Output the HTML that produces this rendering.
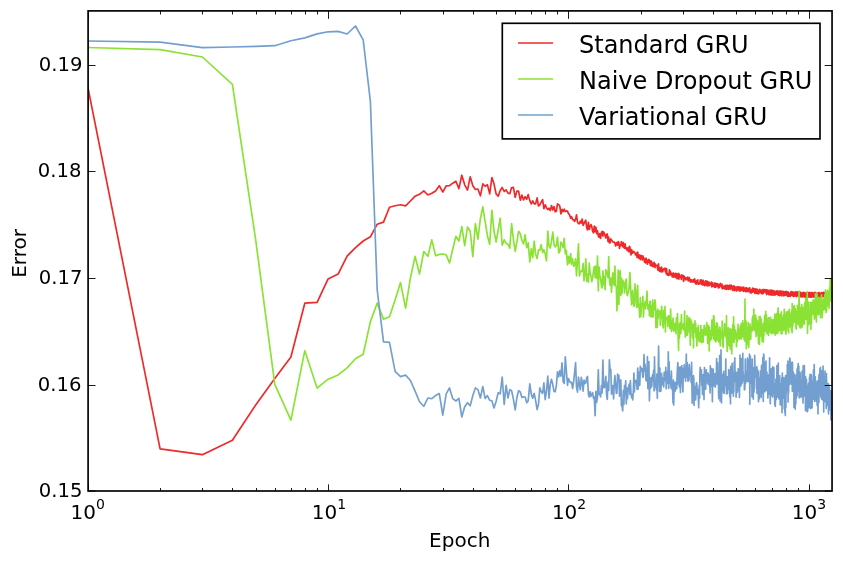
<!DOCTYPE html>
<html lang="en"><head><meta charset="utf-8"><title>GRU error vs epoch</title>
<style>html,body{margin:0;padding:0;background:#fff}svg{display:block}</style></head>
<body>
<svg width="843" height="562" viewBox="0 0 843 562" font-family="'DejaVu Sans','Liberation Sans',sans-serif" fill="#000">
<clipPath id="ax"><rect x="88.1" y="10.9" width="743.9" height="480.1"/></clipPath>
<g clip-path="url(#ax)">
<polyline points="87.7,86.5 160.1,448.8 202.4,454.7 232.4,440.2 255.7,405.0 274.8,378.5 290.9,357.0 304.8,303.2 317.1,302.3 328.1,278.9 338.1,274.1 347.1,256.2 355.5,247.6 363.2,241.0 370.4,236.8 377.2,224.2 383.5,222.1 389.5,207.2 395.1,205.7 400.5,204.8 405.6,205.9 410.4,201.0 415.1,196.2 419.5,194.3 423.8,190.9 427.9,195.0 431.8,193.3 435.6,191.0 439.3,185.7 442.8,192.0 446.2,185.9 449.5,185.7 452.8,183.2 455.9,181.3 458.9,188.6 461.8,175.2 464.7,184.8 467.5,190.1 470.2,176.8 472.8,185.7 475.4,189.5 477.9,189.0 480.4,195.8 482.8,183.8 485.1,186.3 487.4,184.8 489.7,193.9 491.9,177.5 494.0,183.8 496.1,193.9 498.2,196.2 500.2,190.5 502.2,187.5 504.2,191.5 506.1,189.9 508.0,193.1 509.8,193.7 511.6,187.6 513.4,187.4 515.2,197.3 516.9,191.1 518.6,191.2 520.3,200.2 521.9,195.1 523.5,199.9 525.1,196.7 526.7,199.2 528.2,194.6 529.8,200.6 531.3,203.9 532.7,200.8 534.2,203.8 535.6,203.8 537.1,197.9 538.5,206.0 539.8,204.9 541.2,202.2 542.6,199.6 543.9,208.7 545.2,204.9 546.5,207.7 547.8,209.6 549.0,208.2 550.3,210.6 551.5,205.5 552.8,209.9 554.0,206.5 555.2,211.7 556.3,211.4 557.5,203.9 558.7,204.7 559.8,206.1 560.9,214.0 562.0,209.3 563.1,211.7 564.2,209.0 565.3,211.6 566.4,210.9 567.5,211.1 568.5,213.8 569.5,214.5 570.6,218.2 571.6,216.7 572.6,219.7 573.6,219.6 574.6,221.5 575.6,219.1 576.5,214.9 577.5,222.1 578.5,223.6 579.4,223.7 580.3,221.1 581.3,223.1 582.2,219.0 583.1,225.3 584.0,223.6 584.9,221.6 585.8,220.2 586.7,228.0 587.5,229.8 588.4,222.3 589.3,229.3 590.1,226.4 591.0,224.6 591.8,226.5 592.6,231.3 593.5,232.8 594.3,226.1 595.1,231.7 595.9,227.2 596.7,233.7 597.5,230.8 598.3,236.1 599.1,237.4 599.8,233.7 600.6,238.4 601.4,232.8 602.1,231.3 602.9,236.2 603.6,231.8 604.4,233.6 605.1,235.8 605.8,238.0 606.6,234.5 607.3,234.0 608.0,241.4 608.7,237.1 609.4,243.0 610.1,242.8 610.8,238.9 611.5,239.9 612.2,240.8 612.9,242.2 613.6,242.1 614.3,242.2 614.9,243.0 615.6,246.0 616.3,242.8 616.9,242.5 617.6,245.2 618.2,241.6 618.9,242.5 619.5,248.3 620.1,244.9 620.8,245.5 621.4,241.5 622.0,245.1 622.7,246.7 623.3,242.6 623.9,247.6 624.5,248.1 625.1,243.9 625.7,248.7 626.3,247.9 626.9,249.9 627.5,247.8 628.1,250.9 628.7,251.6 629.3,246.4 629.9,247.1 630.4,252.2 631.0,254.9 631.6,249.7 632.2,251.7 632.7,253.1 633.3,251.4 633.9,252.1 634.4,252.1 635.0,252.9 635.5,255.0 636.1,253.1 636.6,254.1 637.1,257.4 637.7,252.1 638.2,256.6 638.8,258.2 639.3,255.4 639.8,255.0 640.3,259.7 640.9,255.7 641.4,255.7 641.9,257.8 642.4,260.0 642.9,255.9 643.4,257.8 644.0,258.2 644.5,262.2 645.0,259.5 645.5,262.9 646.0,258.1 646.5,259.6 647.0,262.2 647.4,264.2 647.9,261.3 648.4,259.9 648.9,259.4 649.4,262.7 649.9,260.5 650.3,265.2 650.8,265.7 651.3,261.2 651.8,262.2 652.2,266.2 652.7,265.3 653.2,266.7 653.6,263.7 654.1,262.4 654.5,263.8 655.0,267.6 655.5,264.2 655.9,264.9 656.4,265.7 656.8,265.9 657.3,266.1 657.7,269.9 658.1,264.8 658.6,264.0 659.0,270.8 659.5,270.5 659.9,271.5 660.3,267.9 660.8,271.7 661.2,271.8 661.6,267.2 662.1,271.0 662.5,271.8 662.9,270.9 663.3,270.1 663.7,268.8 664.2,269.4 664.6,268.8 665.0,268.0 665.4,271.7 665.8,269.9 666.2,273.6 666.6,268.7 667.0,274.7 667.5,273.5 667.9,275.2 668.3,275.2 668.7,275.4 669.1,273.4 669.5,269.9 669.9,274.8 670.2,271.2 670.6,272.2 671.0,274.8 671.4,274.0 671.8,273.4 672.2,277.0 672.6,275.0 673.0,273.4 673.4,273.0 673.7,277.1 674.1,274.8 674.5,276.9 674.9,274.3 675.2,273.4 675.6,275.7 676.0,277.6 676.4,273.7 676.7,277.8 677.1,278.7 677.5,278.1 677.8,278.4 678.2,273.4 678.6,277.5 678.9,279.1 679.3,274.1 679.7,275.7 680.0,275.8 680.4,277.5 680.7,277.0 681.1,277.5 681.4,279.5 681.8,274.9 682.2,275.3 682.5,275.9 682.9,275.9 683.2,275.7 683.5,281.3 683.9,280.6 684.2,276.1 684.6,278.7 684.9,277.7 685.3,277.7 685.6,278.0 685.9,279.9 686.3,279.6 686.6,278.4 687.0,277.5 687.3,278.4 687.6,277.2 688.0,279.9 688.3,280.9 688.6,279.0 689.0,277.3 689.3,278.0 689.6,279.2 689.9,280.7 690.3,281.8 690.6,279.5 690.9,282.1 691.2,281.1 691.6,280.1 691.9,279.8 692.2,280.6 692.5,281.9 692.8,280.4 693.2,282.0 693.5,280.8 693.8,279.6 694.1,281.4 694.4,282.3 694.7,278.9 695.0,281.0 695.3,281.1 695.7,283.7 696.0,284.1 696.3,281.0 696.6,284.0 696.9,283.5 697.2,280.6 697.5,281.8 697.8,279.9 698.1,283.8 698.4,283.0 698.7,284.3 699.0,283.8 699.3,283.2 699.6,283.6 699.9,282.7 700.2,280.2 700.5,283.0 700.8,279.8 701.1,280.6 701.4,284.1 701.7,280.2 701.9,280.5 702.2,280.6 702.5,284.9 702.8,281.1 703.1,280.3 703.4,284.9 703.7,281.0 704.0,285.0 704.2,284.1 704.5,285.0 704.8,285.7 705.1,283.7 705.4,285.0 705.7,280.8 705.9,284.9 706.2,283.5 706.5,284.7 706.8,281.4 707.1,285.0 707.3,286.0 707.6,281.3 707.9,282.8 708.2,284.2 708.4,285.7 708.7,282.5 709.0,282.2 709.2,282.6 709.5,284.7 709.8,285.5 710.1,283.6 710.3,283.5 710.6,283.7 710.9,283.5 711.1,283.9 711.4,282.1 711.7,284.4 711.9,287.0 712.2,284.0 712.4,285.9 712.7,282.8 713.0,285.7 713.2,286.1 713.5,285.7 713.8,284.9 714.0,284.7 714.3,285.6 714.5,287.1 714.8,283.0 715.0,282.8 715.3,286.4 715.6,287.3 715.8,285.2 716.1,284.9 716.3,286.4 716.6,283.5 716.8,284.0 717.1,283.7 717.3,285.8 717.6,284.4 717.8,284.0 718.1,286.5 718.3,288.0 718.6,284.5 718.8,286.7 719.1,285.2 719.3,287.6 719.6,286.2 719.8,284.5 720.1,284.3 720.3,283.3 720.5,285.8 720.8,285.3 721.0,284.2 721.3,285.3 721.5,285.1 721.8,287.6 722.0,284.2 722.2,288.8 722.5,286.1 722.7,286.8 722.9,286.1 723.2,288.2 723.4,288.1 723.7,286.7 723.9,286.4 724.1,287.7 724.4,288.5 724.6,286.1 724.8,287.9 725.1,289.1 725.3,286.5 725.5,285.3 725.8,285.4 726.0,288.0 726.2,287.8 726.5,289.4 726.7,288.8 726.9,285.6 727.1,285.4 727.4,285.8 727.6,285.4 727.8,288.2 728.1,289.1 728.3,289.3 728.5,285.9 728.7,289.2 729.0,286.3 729.2,286.9 729.4,288.6 729.6,285.2 729.8,285.3 730.1,289.3 730.3,286.4 730.5,286.8 730.7,288.0 731.0,288.6 731.2,285.1 731.4,286.8 731.6,287.4 731.8,287.7 732.1,286.3 732.3,288.3 732.5,290.3 732.7,287.4 732.9,288.2 733.1,286.0 733.4,286.9 733.6,289.0 733.8,286.1 734.0,290.2 734.2,290.4 734.4,286.1 734.6,290.6 734.8,287.6 735.1,289.8 735.3,289.7 735.5,287.3 735.7,289.4 735.9,289.3 736.1,290.1 736.3,287.3 736.5,289.9 736.7,291.0 736.9,289.5 737.2,288.8 737.4,286.6 737.6,288.7 737.8,287.9 738.0,289.9 738.2,289.7 738.4,289.2 738.6,287.1 738.8,289.6 739.0,289.6 739.2,287.2 739.4,291.0 739.6,289.8 739.8,287.0 740.0,291.3 740.2,287.2 740.4,288.2 740.6,290.3 740.8,289.6 741.0,289.4 741.2,290.0 741.4,289.0 741.6,288.2 741.8,287.6 742.0,287.0 742.2,290.5 742.4,290.7 742.6,289.6 742.8,290.7 743.0,288.7 743.2,288.2 743.4,288.9 743.6,291.5 743.8,287.1 744.0,289.6 744.2,288.3 744.4,291.0 744.6,288.9 744.8,288.8 745.0,289.2 745.1,289.9 745.3,291.2 745.5,289.0 745.7,291.6 745.9,287.8 746.1,288.6 746.3,287.8 746.5,287.9 746.7,291.4 746.9,291.1 747.1,288.3 747.2,288.4 747.4,289.6 747.6,291.3 747.8,291.7 748.0,291.4 748.2,290.6 748.4,288.3 748.6,289.6 748.7,288.6 748.9,290.4 749.1,290.6 749.3,288.7 749.5,289.0 749.7,291.8 749.8,287.9 750.0,292.0 750.2,292.4 750.4,292.8 750.6,289.8 750.8,290.7 750.9,290.9 751.1,291.2 751.3,293.0 751.5,291.5 751.7,289.5 751.8,292.5 752.0,290.6 752.2,291.2 752.4,291.9 752.6,288.1 752.7,292.1 752.9,291.6 753.1,290.7 753.3,290.9 753.5,290.6 753.6,289.3 753.8,291.0 754.0,288.5 754.2,290.9 754.3,291.7 754.5,290.7 754.7,291.3 754.9,293.4 755.0,293.1 755.2,289.2 755.4,292.6 755.6,291.8 755.7,288.8 755.9,290.4 756.1,289.8 756.3,289.0 756.4,291.4 756.6,293.5 756.8,290.4 757.0,293.2 757.1,292.3 757.3,289.4 757.5,293.2 757.6,291.9 757.8,293.6 758.0,292.6 758.1,292.7 758.3,290.7 758.5,293.1 758.7,293.8 758.8,293.4 759.0,291.2 759.2,292.9 759.3,291.5 759.5,289.6 759.7,289.3 759.8,289.5 760.0,290.1 760.2,289.9 760.3,291.7 760.5,292.7 760.7,291.9 760.8,291.3 761.0,292.5 761.2,290.8 761.3,291.6 761.5,293.1 761.7,291.3 761.8,290.2 762.0,293.9 762.1,293.0 762.3,291.2 762.5,291.2 762.6,292.0 762.8,292.4 763.0,290.5 763.1,289.4 763.3,290.4 763.4,293.4 763.6,290.1 763.8,291.8 763.9,290.4 764.1,290.5 764.2,290.3 764.4,291.5 764.6,290.3 764.7,289.6 764.9,290.1 765.0,290.4 765.2,292.1 765.4,289.9 765.5,289.7 765.7,291.9 765.8,291.7 766.0,293.2 766.1,289.9 766.3,291.7 766.5,291.7 766.6,289.8 766.8,294.6 766.9,290.8 767.1,290.2 767.2,292.1 767.4,290.6 767.6,292.9 767.7,291.5 767.9,290.4 768.0,290.0 768.2,293.5 768.3,291.2 768.5,293.9 768.6,292.2 768.8,294.6 768.9,291.4 769.1,291.2 769.2,291.2 769.4,294.1 769.6,293.1 769.7,291.7 769.9,290.4 770.0,293.4 770.2,294.9 770.3,293.0 770.5,290.0 770.6,290.2 770.8,290.5 770.9,290.9 771.1,290.2 771.2,290.3 771.4,293.4 771.5,294.7 771.7,291.1 771.8,295.1 772.0,292.6 772.1,294.2 772.3,294.8 772.4,295.0 772.6,290.3 772.7,291.7 772.8,293.3 773.0,295.0 773.1,290.7 773.3,291.7 773.4,294.6 773.6,290.8 773.7,292.3 773.9,292.0 774.0,293.8 774.2,295.0 774.3,291.2 774.5,294.1 774.6,294.1 774.7,294.6 774.9,293.2 775.0,295.1 775.2,292.2 775.3,292.5 775.5,291.6 775.6,294.4 775.8,292.9 775.9,291.8 776.0,291.3 776.2,294.1 776.3,293.6 776.5,294.1 776.6,292.5 776.8,293.0 776.9,291.3 777.0,294.2 777.2,290.7 777.3,293.0 777.5,294.4 777.6,294.0 777.7,291.1 777.9,291.8 778.0,294.9 778.2,293.9 778.3,295.1 778.4,295.1 778.6,293.0 778.7,295.2 778.9,294.4 779.0,292.4 779.1,292.6 779.3,291.1 779.4,292.8 779.6,295.6 779.7,291.3 779.8,293.7 780.0,291.4 780.1,291.2 780.2,294.1 780.4,292.1 780.5,291.1 780.7,291.6 780.8,294.1 780.9,293.9 781.1,291.0 781.2,292.1 781.3,295.8 781.5,292.1 781.6,293.8 781.7,293.1 781.9,294.9 782.0,294.0 782.2,295.0 782.3,293.7 782.4,292.0 782.6,291.9 782.7,291.5 782.8,295.2 783.0,291.6 783.1,291.2 783.2,296.0 783.4,292.1 783.5,295.6 783.6,291.5 783.8,293.5 783.9,292.3 784.0,295.3 784.2,294.2 784.3,294.4 784.4,295.0 784.6,295.5 784.7,292.9 784.8,294.2 784.9,293.4 785.1,291.7 785.2,295.4 785.3,294.2 785.5,295.3 785.6,292.3 785.7,293.9 785.9,293.6 786.0,294.9 786.1,291.6 786.3,293.0 786.4,293.7 786.5,291.6 786.6,294.0 786.8,295.0 786.9,293.4 787.0,294.5 787.2,294.3 787.3,292.4 787.4,293.1 787.5,296.3 787.7,293.0 787.8,293.5 787.9,291.8 788.1,292.4 788.2,292.2 788.3,296.0 788.4,295.0 788.6,295.8 788.7,296.3 788.8,294.5 788.9,296.1 789.1,294.1 789.2,293.5 789.3,296.2 789.4,295.9 789.6,296.2 789.7,293.9 789.8,295.3 789.9,293.5 790.1,296.4 790.2,296.1 790.3,292.9 790.4,296.1 790.6,292.4 790.7,292.0 790.8,295.1 790.9,293.0 791.1,294.1 791.2,294.7 791.3,291.7 791.4,295.2 791.6,292.9 791.7,293.7 791.8,293.3 791.9,295.3 792.1,295.3 792.2,293.0 792.3,292.1 792.4,293.1 792.5,293.6 792.7,292.0 792.8,292.4 792.9,295.4 793.0,295.1 793.2,296.5 793.3,296.5 793.4,296.0 793.5,293.5 793.6,292.4 793.8,293.2 793.9,294.0 794.0,294.3 794.1,294.4 794.2,293.5 794.4,295.9 794.5,293.1 794.6,294.0 794.7,296.1 794.8,295.7 795.0,293.2 795.1,292.9 795.2,295.7 795.3,291.8 795.4,292.4 795.6,294.4 795.7,294.4 795.8,292.6 795.9,292.0 796.0,292.8 796.1,295.6 796.3,294.1 796.4,296.6 796.5,295.7 796.6,296.7 796.7,292.0 796.9,292.7 797.0,291.9 797.1,294.0 797.2,293.5 797.3,292.1 797.4,294.6 797.6,292.3 797.7,293.4 797.8,293.1 797.9,295.8 798.0,293.9 798.1,293.2 798.2,292.1 798.4,294.0 798.5,295.0 798.6,295.2 798.7,296.4 798.8,295.9 798.9,293.2 799.1,292.6 799.2,295.7 799.3,295.8 799.4,294.5 799.5,296.1 799.6,294.7 799.7,293.4 799.9,292.8 800.0,292.1 800.1,295.2 800.2,296.4 800.3,296.5 800.4,294.3 800.5,295.3 800.6,296.6 800.8,296.0 800.9,295.0 801.0,294.1 801.1,294.6 801.2,292.9 801.3,293.0 801.4,295.4 801.5,297.0 801.7,294.8 801.8,294.1 801.9,293.8 802.0,294.3 802.1,296.1 802.2,294.3 802.3,296.8 802.4,292.9 802.6,293.7 802.7,294.7 802.8,294.2 802.9,296.3 803.0,296.2 803.1,296.7 803.2,295.2 803.3,292.3 803.4,295.0 803.5,294.9 803.7,294.6 803.8,293.6 803.9,295.7 804.0,296.7 804.1,292.7 804.2,295.5 804.3,294.0 804.4,294.7 804.5,296.6 804.6,296.9 804.7,295.4 804.9,293.2 805.0,296.8 805.1,293.1 805.2,294.1 805.3,296.3 805.4,293.8 805.5,293.6 805.6,296.9 805.7,296.9 805.8,293.9 805.9,294.2 806.0,293.7 806.1,293.0 806.3,293.5 806.4,297.1 806.5,292.7 806.6,293.5 806.7,293.3 806.8,292.7 806.9,294.9 807.0,296.0 807.1,296.5 807.2,295.4 807.3,296.4 807.4,292.4 807.5,293.7 807.6,297.1 807.7,292.7 807.9,293.7 808.0,294.7 808.1,293.7 808.2,295.0 808.3,292.6 808.4,293.5 808.5,297.0 808.6,293.1 808.7,296.8 808.8,293.2 808.9,297.2 809.0,295.7 809.1,295.5 809.2,293.1 809.3,292.6 809.4,296.1 809.5,293.2 809.6,293.3 809.7,296.4 809.8,296.6 809.9,292.6 810.0,297.0 810.1,295.0 810.2,294.2 810.4,292.9 810.5,294.3 810.6,297.2 810.7,293.7 810.8,293.0 810.9,293.1 811.0,293.0 811.1,294.1 811.2,296.8 811.3,292.7 811.4,293.3 811.5,296.9 811.6,297.2 811.7,297.1 811.8,293.6 811.9,294.1 812.0,297.0 812.1,294.7 812.2,295.8 812.3,293.9 812.4,292.5 812.5,294.0 812.6,296.0 812.7,296.2 812.8,295.1 812.9,294.6 813.0,295.0 813.1,294.5 813.2,295.0 813.3,296.4 813.4,293.3 813.5,295.3 813.6,296.9 813.7,296.5 813.8,293.2 813.9,297.1 814.0,296.5 814.1,293.2 814.2,293.7 814.3,293.4 814.4,292.6 814.5,297.1 814.6,294.4 814.7,296.6 814.8,292.9 814.9,292.4 815.0,296.6 815.1,296.2 815.2,297.2 815.3,295.7 815.4,294.9 815.5,296.1 815.6,292.8 815.7,295.0 815.8,294.5 815.9,293.1 816.0,295.3 816.1,293.9 816.2,294.8 816.3,294.2 816.4,293.9 816.5,294.1 816.5,295.3 816.6,297.1 816.7,296.9 816.8,296.6 816.9,296.4 817.0,293.8 817.1,297.1 817.2,293.7 817.3,293.0 817.4,294.8 817.5,295.9 817.6,294.0 817.7,295.5 817.8,293.7 817.9,297.1 818.0,294.6 818.1,294.7 818.2,295.0 818.3,296.6 818.4,297.2 818.5,294.9 818.6,294.5 818.7,295.4 818.8,292.7 818.9,294.4 818.9,296.5 819.0,296.1 819.1,292.7 819.2,296.5 819.3,294.2 819.4,297.1 819.5,294.2 819.6,293.4 819.7,295.0 819.8,296.7 819.9,294.5 820.0,296.6 820.1,295.8 820.2,294.1 820.3,293.8 820.4,294.8 820.5,294.3 820.5,294.2 820.6,295.5 820.7,296.6 820.8,295.2 820.9,293.1 821.0,293.5 821.1,294.2 821.2,295.4 821.3,293.1 821.4,292.8 821.5,293.9 821.6,293.8 821.7,292.5 821.8,295.0 821.8,296.8 821.9,295.0 822.0,295.9 822.1,296.4 822.2,296.4 822.3,296.8 822.4,294.5 822.5,295.7 822.6,293.0 822.7,296.6 822.8,294.2 822.9,294.7 822.9,296.7 823.0,293.8 823.1,293.3 823.2,296.4 823.3,295.3 823.4,292.8 823.5,292.5 823.6,294.1 823.7,292.4 823.8,296.4 823.9,293.3 823.9,293.7 824.0,294.3 824.1,294.9 824.2,294.5 824.3,295.4 824.4,295.6 824.5,294.5 824.6,292.9 824.7,297.1 824.8,295.7 824.8,292.8 824.9,294.5 825.0,296.0 825.1,297.2 825.2,292.7 825.3,292.4 825.4,294.7 825.5,294.4 825.6,296.7 825.6,296.4 825.7,294.0 825.8,294.4 825.9,295.2 826.0,296.6 826.1,293.4 826.2,294.3 826.3,292.8 826.4,295.5 826.4,292.5 826.5,296.9 826.6,294.9 826.7,295.2 826.8,292.8 826.9,293.5 827.0,294.7 827.1,296.5 827.1,295.0 827.2,293.8 827.3,297.1 827.4,295.6 827.5,294.9 827.6,293.4 827.7,293.8 827.8,296.7 827.8,293.0 827.9,295.0 828.0,295.4 828.1,294.1 828.2,296.1 828.3,296.8 828.4,296.5 828.5,295.9 828.5,293.4 828.6,292.7 828.7,294.5 828.8,293.9 828.9,293.3 829.0,296.6 829.1,293.4 829.1,296.3 829.2,296.9 829.3,293.0 829.4,296.8 829.5,294.3 829.6,293.4 829.7,293.3 829.7,292.6 829.8,294.8 829.9,294.2 830.0,296.5 830.1,296.4 830.2,292.7 830.3,294.3 830.3,294.3 830.4,293.3 830.5,293.6 830.6,293.7 830.7,295.7 830.8,294.0 830.9,292.9 830.9,293.5 831.0,294.5 831.1,295.1 831.2,293.6 831.3,295.8 831.4,293.4 831.4,295.6 831.5,295.3 831.6,293.3 831.7,296.0 831.8,294.3 831.9,295.0 831.9,295.3 832.0,295.4 832.1,294.5 832.2,292.7" fill="none" stroke="#ef2929" stroke-width="1.67" stroke-linejoin="round" stroke-linecap="butt"/>
<polyline points="87.7,47.5 160.1,49.6 202.4,57.0 232.4,84.4 255.7,240.0 274.8,384.4 290.9,420.2 304.8,350.7 317.1,388.1 328.1,379.2 338.1,374.9 347.1,367.9 355.5,358.8 363.2,354.2 370.4,321.6 377.2,303.1 383.5,319.1 389.5,316.8 395.1,300.0 400.5,282.6 405.6,308.2 410.4,278.0 415.1,256.4 419.5,274.0 423.8,251.5 427.9,256.3 431.8,239.9 435.6,255.7 439.3,254.4 442.8,254.0 446.2,254.8 449.5,263.0 452.8,249.0 455.9,236.3 458.9,241.0 461.8,226.6 464.7,245.6 467.5,227.1 470.2,231.0 472.8,256.7 475.4,223.7 477.9,239.1 480.4,218.6 482.8,206.8 485.1,221.4 487.4,235.7 489.7,244.3 491.9,210.4 494.0,231.0 496.1,242.0 498.2,230.0 500.2,218.2 502.2,245.2 504.2,239.9 506.1,243.3 508.0,244.3 509.8,248.1 511.6,223.7 513.4,239.5 515.2,251.3 516.9,241.4 518.6,231.3 520.3,233.8 521.9,240.5 523.5,244.0 525.1,234.8 526.7,247.7 528.2,242.9 529.8,262.0 531.3,248.7 532.7,257.7 534.2,241.0 535.6,254.3 537.1,258.5 538.5,249.9 539.8,250.3 541.2,244.6 542.6,252.7 543.9,249.7 545.2,253.8 546.5,260.9 547.8,231.0 549.0,245.8 550.3,248.0 551.5,241.1 552.8,232.0 554.0,244.3 555.2,246.8 556.3,245.7 557.5,237.0 558.7,252.9 559.8,251.6 560.9,242.0 562.0,244.3 563.1,247.6 564.2,238.4 565.3,253.8 566.4,250.4 567.5,265.0 568.5,256.3 569.5,263.1 570.6,253.6 571.6,264.1 572.6,258.8 573.6,266.4 574.6,264.5 575.6,258.8 576.5,275.8 577.5,261.0 578.5,243.8 579.4,275.9 580.3,272.8 581.3,270.5 582.2,271.3 583.1,263.4 584.0,280.9 584.9,274.1 585.8,258.9 586.7,281.3 587.5,274.2 588.4,282.2 589.3,263.2 590.1,273.2 591.0,276.2 591.8,281.6 592.6,278.0 593.5,270.5 594.3,266.5 595.1,277.5 595.9,266.2 596.7,278.5 597.5,256.2 598.3,291.0 599.1,267.1 599.8,275.6 600.6,278.6 601.4,285.6 602.1,287.9 602.9,270.8 603.6,284.8 604.4,276.6 605.1,289.7 605.8,269.7 606.6,271.7 607.3,273.9 608.0,277.7 608.7,256.6 609.4,279.4 610.1,285.5 610.8,278.2 611.5,292.3 612.2,279.9 612.9,272.9 613.6,284.1 614.3,285.1 614.9,266.0 615.6,286.0 616.3,286.4 616.9,310.8 617.6,289.7 618.2,270.1 618.9,304.6 619.5,274.8 620.1,270.7 620.8,295.5 621.4,278.2 622.0,293.4 622.7,280.0 623.3,282.3 623.9,282.6 624.5,292.8 625.1,287.5 625.7,281.2 626.3,279.0 626.9,293.7 627.5,295.7 628.1,292.3 628.7,291.8 629.3,283.8 629.9,272.6 630.4,282.3 631.0,294.9 631.6,304.8 632.2,299.4 632.7,290.3 633.3,301.9 633.9,306.5 634.4,305.1 635.0,283.8 635.5,294.8 636.1,297.0 636.6,307.4 637.1,290.1 637.7,285.3 638.2,306.9 638.8,304.5 639.3,310.4 639.8,317.4 640.3,297.6 640.9,316.2 641.4,303.5 641.9,305.6 642.4,303.7 642.9,296.4 643.4,317.2 644.0,306.5 644.5,306.7 645.0,302.1 645.5,308.8 646.0,301.5 646.5,299.5 647.0,291.0 647.4,303.7 647.9,308.7 648.4,309.4 648.9,304.8 649.4,315.8 649.9,301.4 650.3,301.4 650.8,316.7 651.3,307.8 651.8,305.9 652.2,316.9 652.7,299.8 653.2,317.1 653.6,303.1 654.1,309.9 654.5,308.7 655.0,299.9 655.5,303.7 655.9,327.6 656.4,312.4 656.8,311.1 657.3,327.5 657.7,309.1 658.1,318.7 658.6,310.5 659.0,314.5 659.5,312.3 659.9,311.0 660.3,325.3 660.8,318.3 661.2,313.3 661.6,306.4 662.1,313.6 662.5,315.9 662.9,325.5 663.3,327.9 663.7,310.4 664.2,310.2 664.6,323.8 665.0,306.3 665.4,332.1 665.8,318.4 666.2,317.7 666.6,317.3 667.0,318.2 667.5,318.6 667.9,326.5 668.3,315.7 668.7,316.6 669.1,316.8 669.5,316.4 669.9,328.4 670.2,326.7 670.6,309.0 671.0,322.8 671.4,331.3 671.8,321.5 672.2,321.9 672.6,328.3 673.0,318.1 673.4,330.5 673.7,331.1 674.1,330.9 674.5,329.9 674.9,323.3 675.2,329.1 675.6,323.2 676.0,333.7 676.4,317.8 676.7,317.7 677.1,321.9 677.5,313.7 677.8,323.4 678.2,340.0 678.6,350.4 678.9,325.2 679.3,338.5 679.7,330.9 680.0,322.5 680.4,325.5 680.7,333.6 681.1,329.1 681.4,314.6 681.8,328.0 682.2,326.9 682.5,325.9 682.9,328.8 683.2,328.1 683.5,323.5 683.9,324.4 684.2,330.6 684.6,311.2 684.9,327.5 685.3,337.2 685.6,332.1 685.9,335.7 686.3,327.5 686.6,327.7 687.0,315.7 687.3,335.2 687.6,321.9 688.0,332.8 688.3,329.0 688.6,323.1 689.0,317.4 689.3,324.6 689.6,324.2 689.9,329.4 690.3,345.3 690.6,319.2 690.9,324.9 691.2,324.4 691.6,321.5 691.9,325.5 692.2,329.7 692.5,337.9 692.8,333.0 693.2,324.6 693.5,347.9 693.8,326.5 694.1,323.9 694.4,329.0 694.7,331.9 695.0,320.8 695.3,331.6 695.7,323.6 696.0,337.6 696.3,333.0 696.6,333.6 696.9,346.0 697.2,328.2 697.5,330.1 697.8,333.0 698.1,330.9 698.4,325.6 698.7,338.4 699.0,340.9 699.3,341.7 699.6,333.0 699.9,333.0 700.2,332.4 700.5,337.4 700.8,325.6 701.1,342.6 701.4,333.4 701.7,334.3 701.9,342.5 702.2,340.7 702.5,329.7 702.8,332.9 703.1,342.1 703.4,337.8 703.7,334.3 704.0,330.6 704.2,325.3 704.5,332.7 704.8,331.9 705.1,328.0 705.4,335.2 705.7,332.1 705.9,334.9 706.2,332.3 706.5,326.8 706.8,322.6 707.1,332.8 707.3,328.1 707.6,343.5 707.9,325.5 708.2,338.1 708.4,325.6 708.7,327.3 709.0,328.1 709.2,350.9 709.5,327.3 709.8,334.9 710.1,341.0 710.3,331.6 710.6,332.7 710.9,339.7 711.1,330.3 711.4,337.9 711.7,338.6 711.9,320.1 712.2,334.7 712.4,325.0 712.7,329.1 713.0,335.4 713.2,327.5 713.5,315.5 713.8,338.8 714.0,316.6 714.3,333.6 714.5,340.3 714.8,334.2 715.0,329.0 715.3,326.7 715.6,329.4 715.8,341.9 716.1,335.9 716.3,322.9 716.6,336.5 716.8,340.3 717.1,334.3 717.3,323.4 717.6,326.0 717.8,330.8 718.1,329.4 718.3,340.3 718.6,330.4 718.8,342.0 719.1,339.8 719.3,338.3 719.6,342.6 719.8,327.0 720.1,328.2 720.3,345.9 720.5,332.7 720.8,338.4 721.0,333.6 721.3,335.0 721.5,334.7 721.8,331.8 722.0,336.8 722.2,321.1 722.5,340.9 722.7,345.5 722.9,332.3 723.2,347.5 723.4,333.2 723.7,337.7 723.9,333.4 724.1,334.5 724.4,323.7 724.6,331.2 724.8,326.6 725.1,326.7 725.3,325.1 725.5,335.6 725.8,334.8 726.0,330.0 726.2,337.7 726.5,315.5 726.7,337.9 726.9,342.0 727.1,351.4 727.4,337.4 727.6,342.5 727.8,332.1 728.1,339.7 728.3,327.8 728.5,336.1 728.7,339.8 729.0,346.0 729.2,332.4 729.4,340.2 729.6,345.7 729.8,343.0 730.1,328.9 730.3,349.2 730.5,333.1 730.7,329.0 731.0,333.8 731.2,340.3 731.4,329.5 731.6,333.1 731.8,353.8 732.1,329.7 732.3,335.3 732.5,342.1 732.7,324.7 732.9,337.0 733.1,338.1 733.4,328.6 733.6,316.8 733.8,340.6 734.0,342.7 734.2,335.5 734.4,326.2 734.6,339.3 734.8,333.6 735.1,336.3 735.3,334.0 735.5,332.3 735.7,330.1 735.9,335.4 736.1,332.9 736.3,333.4 736.5,346.7 736.7,341.1 736.9,338.9 737.2,336.8 737.4,341.4 737.6,338.4 737.8,336.1 738.0,324.3 738.2,334.1 738.4,328.7 738.6,329.6 738.8,336.6 739.0,331.0 739.2,330.9 739.4,339.3 739.6,338.9 739.8,338.2 740.0,336.5 740.2,326.2 740.4,330.3 740.6,327.2 740.8,330.5 741.0,335.6 741.2,323.3 741.4,339.0 741.6,326.0 741.8,336.5 742.0,336.9 742.2,335.0 742.4,331.0 742.6,332.1 742.8,320.8 743.0,336.1 743.2,332.7 743.4,336.8 743.6,331.2 743.8,324.2 744.0,333.2 744.2,339.7 744.4,336.3 744.6,330.0 744.8,323.3 745.0,299.0 745.1,341.5 745.3,328.2 745.5,338.3 745.7,341.0 745.9,333.3 746.1,321.2 746.3,348.8 746.5,330.1 746.7,336.1 746.9,327.5 747.1,344.3 747.2,336.0 747.4,344.5 747.6,344.0 747.8,329.7 748.0,329.3 748.2,322.5 748.4,325.7 748.6,343.2 748.7,347.5 748.9,342.3 749.1,330.1 749.3,332.4 749.5,334.3 749.7,334.1 749.8,329.8 750.0,324.1 750.2,338.3 750.4,331.1 750.6,339.4 750.8,337.8 750.9,330.3 751.1,330.5 751.3,327.8 751.5,328.6 751.7,326.5 751.8,328.7 752.0,331.1 752.2,321.8 752.4,318.0 752.6,327.9 752.7,316.2 752.9,330.3 753.1,319.2 753.3,322.8 753.5,328.5 753.6,324.9 753.8,309.1 754.0,314.5 754.2,318.1 754.3,322.4 754.5,329.8 754.7,324.0 754.9,329.0 755.0,324.5 755.2,331.4 755.4,327.9 755.6,318.6 755.7,315.4 755.9,331.1 756.1,336.6 756.3,318.5 756.4,332.6 756.6,332.5 756.8,326.8 757.0,332.5 757.1,329.0 757.3,320.9 757.5,331.3 757.6,326.3 757.8,332.0 758.0,336.0 758.1,323.7 758.3,330.9 758.5,343.6 758.7,327.1 758.8,324.8 759.0,330.0 759.2,316.5 759.3,340.3 759.5,344.4 759.7,332.9 759.8,325.8 760.0,324.9 760.2,328.7 760.3,316.5 760.5,331.4 760.7,335.9 760.8,325.8 761.0,334.5 761.2,319.1 761.3,334.9 761.5,323.0 761.7,334.3 761.8,325.6 762.0,338.7 762.1,341.5 762.3,333.0 762.5,329.2 762.6,325.7 762.8,340.5 763.0,331.9 763.1,324.1 763.3,336.8 763.4,342.1 763.6,329.2 763.8,330.2 763.9,336.0 764.1,325.5 764.2,321.1 764.4,331.1 764.6,316.3 764.7,322.0 764.9,315.0 765.0,321.9 765.2,319.6 765.4,320.1 765.5,326.0 765.7,311.3 765.8,330.5 766.0,331.8 766.1,323.3 766.3,316.4 766.5,315.1 766.6,324.9 766.8,323.7 766.9,325.0 767.1,334.0 767.2,330.6 767.4,320.0 767.6,319.1 767.7,328.9 767.9,326.7 768.0,318.9 768.2,333.1 768.3,332.3 768.5,330.7 768.6,335.4 768.8,317.5 768.9,330.8 769.1,331.1 769.2,327.4 769.4,326.8 769.6,326.2 769.7,328.0 769.9,326.9 770.0,323.8 770.2,328.9 770.3,326.3 770.5,332.7 770.6,317.3 770.8,332.8 770.9,325.4 771.1,328.5 771.2,328.8 771.4,324.5 771.5,328.1 771.7,324.3 771.8,333.7 772.0,319.5 772.1,322.0 772.3,333.1 772.4,331.8 772.6,330.2 772.7,332.4 772.8,328.9 773.0,332.5 773.1,331.6 773.3,325.8 773.4,323.1 773.6,327.8 773.7,319.9 773.9,326.8 774.0,330.5 774.2,333.4 774.3,318.9 774.5,326.6 774.6,322.1 774.7,314.2 774.9,324.0 775.0,330.1 775.2,332.7 775.3,335.1 775.5,324.5 775.6,327.2 775.8,325.6 775.9,323.5 776.0,330.4 776.2,322.6 776.3,318.5 776.5,313.7 776.6,327.2 776.8,333.6 776.9,326.3 777.0,319.7 777.2,328.9 777.3,325.0 777.5,325.9 777.6,318.1 777.7,322.9 777.9,309.8 778.0,332.9 778.2,307.9 778.3,319.0 778.4,320.3 778.6,324.5 778.7,325.0 778.9,328.9 779.0,325.9 779.1,325.7 779.3,330.6 779.4,325.2 779.6,327.6 779.7,329.7 779.8,314.4 780.0,321.0 780.1,325.7 780.2,325.3 780.4,326.3 780.5,319.0 780.7,327.0 780.8,324.3 780.9,318.9 781.1,333.8 781.2,331.2 781.3,311.8 781.5,328.4 781.6,319.4 781.7,315.9 781.9,325.3 782.0,333.7 782.2,317.8 782.3,321.5 782.4,329.1 782.6,328.7 782.7,322.8 782.8,328.0 783.0,318.9 783.1,324.3 783.2,326.6 783.4,322.6 783.5,318.3 783.6,314.9 783.8,319.3 783.9,330.7 784.0,328.7 784.2,309.4 784.3,317.9 784.4,329.1 784.6,320.8 784.7,323.8 784.8,311.9 784.9,325.1 785.1,323.6 785.2,319.3 785.3,321.0 785.5,327.4 785.6,326.7 785.7,314.6 785.9,334.2 786.0,321.4 786.1,330.6 786.3,316.7 786.4,317.8 786.5,316.7 786.6,331.1 786.8,312.1 786.9,318.6 787.0,312.2 787.2,311.5 787.3,326.8 787.4,317.7 787.5,322.8 787.7,311.9 787.8,319.7 787.9,313.7 788.1,314.6 788.2,313.9 788.3,326.3 788.4,324.4 788.6,332.9 788.7,322.7 788.8,323.9 788.9,319.4 789.1,324.7 789.2,309.3 789.3,327.3 789.4,312.1 789.6,319.8 789.7,312.3 789.8,316.7 789.9,323.1 790.1,318.9 790.2,320.6 790.3,321.3 790.4,318.2 790.6,315.4 790.7,326.7 790.8,322.6 790.9,319.9 791.1,316.2 791.2,322.1 791.3,319.3 791.4,330.2 791.6,317.5 791.7,311.1 791.8,321.3 791.9,310.1 792.1,332.7 792.2,303.6 792.3,322.1 792.4,313.7 792.5,319.0 792.7,320.3 792.8,326.1 792.9,324.5 793.0,318.2 793.2,317.8 793.3,314.4 793.4,306.6 793.5,322.7 793.6,306.7 793.8,316.8 793.9,315.9 794.0,313.0 794.1,317.2 794.2,315.2 794.4,320.8 794.5,305.9 794.6,322.1 794.7,319.1 794.8,312.4 795.0,319.8 795.1,312.0 795.2,308.3 795.3,312.6 795.4,319.0 795.6,321.8 795.7,317.8 795.8,320.0 795.9,310.8 796.0,328.2 796.1,324.6 796.3,329.1 796.4,322.0 796.5,321.7 796.6,311.1 796.7,324.7 796.9,314.0 797.0,321.9 797.1,316.5 797.2,311.4 797.3,312.2 797.4,305.3 797.6,308.1 797.7,314.0 797.8,323.9 797.9,308.6 798.0,309.0 798.1,317.7 798.2,308.6 798.4,313.4 798.5,308.0 798.6,307.4 798.7,311.4 798.8,314.4 798.9,305.0 799.1,291.1 799.2,317.3 799.3,326.2 799.4,311.9 799.5,304.6 799.6,309.6 799.7,307.2 799.9,315.0 800.0,308.6 800.1,327.9 800.2,317.2 800.3,312.1 800.4,324.3 800.5,319.8 800.6,308.8 800.8,328.0 800.9,308.2 801.0,310.7 801.1,311.6 801.2,317.2 801.3,317.1 801.4,307.4 801.5,319.8 801.7,323.7 801.8,304.5 801.9,325.0 802.0,325.6 802.1,310.1 802.2,327.0 802.3,317.9 802.4,321.6 802.6,312.2 802.7,308.7 802.8,318.1 802.9,307.7 803.0,317.2 803.1,312.7 803.2,318.8 803.3,316.4 803.4,310.3 803.5,322.1 803.7,323.9 803.8,320.4 803.9,317.9 804.0,311.1 804.1,319.5 804.2,320.0 804.3,324.1 804.4,323.4 804.5,304.2 804.6,309.0 804.7,302.8 804.9,312.3 805.0,313.6 805.1,315.0 805.2,318.7 805.3,304.6 805.4,310.7 805.5,306.6 805.6,312.0 805.7,298.6 805.8,305.0 805.9,319.4 806.0,315.3 806.1,318.5 806.3,305.5 806.4,303.1 806.5,315.3 806.6,314.2 806.7,313.5 806.8,303.8 806.9,310.8 807.0,314.6 807.1,307.0 807.2,292.5 807.3,317.9 807.4,319.2 807.5,333.5 807.6,320.3 807.7,319.7 807.9,311.7 808.0,323.0 808.1,306.2 808.2,325.3 808.3,302.1 808.4,318.7 808.5,316.7 808.6,312.2 808.7,318.2 808.8,314.1 808.9,324.0 809.0,323.3 809.1,322.4 809.2,318.4 809.3,314.9 809.4,310.4 809.5,315.7 809.6,321.4 809.7,310.9 809.8,311.1 809.9,310.7 810.0,313.1 810.1,318.1 810.2,302.3 810.4,314.7 810.5,324.4 810.6,304.6 810.7,321.2 810.8,315.4 810.9,329.3 811.0,303.2 811.1,315.2 811.2,316.0 811.3,324.0 811.4,320.5 811.5,302.3 811.6,311.1 811.7,311.6 811.8,314.2 811.9,306.2 812.0,315.1 812.1,310.3 812.2,311.5 812.3,313.9 812.4,314.1 812.5,308.5 812.6,313.1 812.7,313.7 812.8,309.7 812.9,302.3 813.0,310.5 813.1,310.1 813.2,299.9 813.3,313.9 813.4,311.2 813.5,301.6 813.6,313.0 813.7,304.4 813.8,306.9 813.9,311.0 814.0,300.7 814.1,302.8 814.2,316.1 814.3,318.3 814.4,305.2 814.5,319.2 814.6,301.1 814.7,314.2 814.8,314.1 814.9,305.3 815.0,308.6 815.1,306.8 815.2,310.2 815.3,304.2 815.4,293.9 815.5,308.2 815.6,303.3 815.7,303.7 815.8,310.6 815.9,312.5 816.0,306.7 816.1,317.4 816.2,303.0 816.3,311.5 816.4,322.1 816.5,302.2 816.5,313.1 816.6,303.3 816.7,315.3 816.8,307.2 816.9,308.6 817.0,293.8 817.1,304.9 817.2,310.1 817.3,310.8 817.4,312.2 817.5,311.0 817.6,311.0 817.7,302.0 817.8,309.8 817.9,301.1 818.0,301.6 818.1,305.1 818.2,301.7 818.3,314.8 818.4,303.2 818.5,310.8 818.6,312.0 818.7,308.0 818.8,297.4 818.9,300.7 818.9,303.9 819.0,301.2 819.1,313.6 819.2,306.7 819.3,301.1 819.4,306.8 819.5,302.5 819.6,303.2 819.7,301.9 819.8,312.5 819.9,303.9 820.0,298.6 820.1,299.8 820.2,302.0 820.3,305.2 820.4,317.8 820.5,302.9 820.5,308.1 820.6,305.4 820.7,310.2 820.8,311.3 820.9,310.9 821.0,312.6 821.1,304.2 821.2,299.0 821.3,302.0 821.4,299.4 821.5,294.8 821.6,301.0 821.7,310.9 821.8,312.8 821.8,311.5 821.9,311.0 822.0,303.2 822.1,302.7 822.2,317.8 822.3,314.2 822.4,304.0 822.5,304.4 822.6,304.2 822.7,305.4 822.8,304.4 822.9,303.7 822.9,307.4 823.0,306.2 823.1,300.2 823.2,306.6 823.3,305.5 823.4,304.3 823.5,304.5 823.6,298.9 823.7,303.9 823.8,303.2 823.9,302.4 823.9,307.1 824.0,310.1 824.1,299.4 824.2,302.4 824.3,297.4 824.4,308.1 824.5,301.7 824.6,300.2 824.7,304.0 824.8,301.2 824.8,303.5 824.9,294.6 825.0,304.2 825.1,297.4 825.2,302.3 825.3,293.6 825.4,303.1 825.5,289.9 825.6,299.0 825.6,307.1 825.7,304.8 825.8,310.4 825.9,302.0 826.0,297.2 826.1,312.6 826.2,304.6 826.3,307.5 826.4,297.1 826.4,308.8 826.5,307.2 826.6,311.1 826.7,304.1 826.8,304.5 826.9,292.4 827.0,293.8 827.1,304.7 827.1,303.9 827.2,306.1 827.3,301.1 827.4,291.2 827.5,300.6 827.6,290.4 827.7,305.5 827.8,300.2 827.8,291.7 827.9,296.3 828.0,296.2 828.1,296.7 828.2,294.3 828.3,305.8 828.4,294.5 828.5,305.9 828.5,302.8 828.6,295.8 828.7,303.0 828.8,292.5 828.9,296.5 829.0,299.4 829.1,308.4 829.1,298.1 829.2,297.4 829.3,298.3 829.4,299.7 829.5,292.5 829.6,287.8 829.7,292.9 829.7,295.1 829.8,299.9 829.9,289.9 830.0,296.1 830.1,289.7 830.2,278.9 830.3,291.7 830.3,285.6 830.4,301.1 830.5,289.8 830.6,284.7 830.7,290.4 830.8,296.4 830.9,289.9 830.9,297.2 831.0,287.3 831.1,287.1 831.2,287.0 831.3,287.6 831.4,282.6 831.4,285.5 831.5,287.9 831.6,279.9 831.7,286.0 831.8,283.2 831.9,280.4 831.9,279.4 832.0,281.1 832.1,279.9 832.2,283.1" fill="none" stroke="#8ae234" stroke-width="1.67" stroke-linejoin="round" stroke-linecap="butt"/>
<polyline points="87.7,41.0 160.1,42.1 202.4,47.7 232.4,47.0 255.7,46.4 274.8,45.7 290.9,40.7 304.8,37.9 317.1,33.9 328.1,31.8 338.1,31.4 347.1,34.0 355.5,26.0 363.2,39.8 370.4,101.7 377.2,290.0 383.5,341.8 389.5,342.3 395.1,371.4 400.5,376.6 405.6,375.1 410.4,380.5 415.1,391.2 419.5,401.7 423.8,406.3 427.9,398.0 431.8,398.7 435.6,395.6 439.3,393.6 442.8,415.1 446.2,393.9 449.5,387.9 452.8,398.7 455.9,401.0 458.9,398.4 461.8,417.0 464.7,406.8 467.5,402.7 470.2,405.8 472.8,395.6 475.4,387.9 477.9,389.6 480.4,398.0 482.8,386.5 485.1,398.4 487.4,395.6 489.7,400.3 491.9,400.8 494.0,408.0 496.1,401.5 498.2,392.7 500.2,393.9 502.2,377.0 504.2,404.4 506.1,385.3 508.0,398.0 509.8,389.6 511.6,390.8 513.4,399.1 515.2,409.9 516.9,397.5 518.6,390.7 520.3,391.9 521.9,397.5 523.5,396.8 525.1,397.0 526.7,402.8 528.2,400.7 529.8,383.8 531.3,394.4 532.7,398.3 534.2,393.3 535.6,400.3 537.1,409.6 538.5,404.3 539.8,387.8 541.2,391.7 542.6,393.4 543.9,382.8 545.2,399.6 546.5,390.9 547.8,376.1 549.0,398.1 550.3,384.1 551.5,379.3 552.8,384.8 554.0,391.4 555.2,391.7 556.3,386.2 557.5,371.8 558.7,376.8 559.8,370.7 560.9,376.1 562.0,362.9 563.1,381.3 564.2,383.5 565.3,356.8 566.4,371.2 567.5,385.3 568.5,378.5 569.5,381.0 570.6,382.7 571.6,382.2 572.6,388.6 573.6,382.4 574.6,372.5 575.6,362.5 576.5,387.0 577.5,392.2 578.5,377.1 579.4,384.5 580.3,389.8 581.3,377.3 582.2,382.1 583.1,391.1 584.0,380.0 584.9,383.6 585.8,383.1 586.7,377.7 587.5,376.5 588.4,394.1 589.3,397.0 590.1,391.6 591.0,396.3 591.8,394.4 592.6,392.6 593.5,398.4 594.3,396.9 595.1,415.6 595.9,391.3 596.7,402.3 597.5,396.9 598.3,369.8 599.1,394.4 599.8,393.7 600.6,396.9 601.4,385.7 602.1,393.0 602.9,360.0 603.6,387.8 604.4,387.5 605.1,383.1 605.8,376.4 606.6,395.1 607.3,399.4 608.0,382.1 608.7,390.4 609.4,359.8 610.1,370.5 610.8,369.5 611.5,394.3 612.2,385.7 612.9,385.7 613.6,398.9 614.3,382.8 614.9,375.5 615.6,384.0 616.3,393.4 616.9,393.3 617.6,374.1 618.2,379.6 618.9,375.4 619.5,396.2 620.1,381.3 620.8,379.9 621.4,405.6 622.0,405.9 622.7,411.0 623.3,390.5 623.9,404.5 624.5,385.5 625.1,394.4 625.7,380.9 626.3,403.8 626.9,388.2 627.5,398.7 628.1,390.0 628.7,386.2 629.3,384.0 629.9,394.3 630.4,380.6 631.0,393.6 631.6,397.7 632.2,394.6 632.7,399.9 633.3,392.4 633.9,373.0 634.4,391.9 635.0,380.9 635.5,380.3 636.1,382.1 636.6,380.7 637.1,389.5 637.7,368.0 638.2,389.0 638.8,372.2 639.3,385.3 639.8,385.0 640.3,366.3 640.9,370.1 641.4,371.0 641.9,368.3 642.4,373.6 642.9,377.5 643.4,375.9 644.0,354.7 644.5,370.9 645.0,364.1 645.5,368.5 646.0,380.4 646.5,377.2 647.0,381.4 647.4,356.5 647.9,388.7 648.4,372.1 648.9,361.7 649.4,400.8 649.9,384.0 650.3,378.0 650.8,387.9 651.3,377.9 651.8,386.5 652.2,377.0 652.7,374.6 653.2,379.7 653.6,370.2 654.1,390.9 654.5,356.9 655.0,385.7 655.5,386.6 655.9,387.2 656.4,389.8 656.8,374.0 657.3,398.3 657.7,374.0 658.1,382.0 658.6,346.0 659.0,370.9 659.5,391.5 659.9,368.2 660.3,391.3 660.8,391.4 661.2,385.1 661.6,373.3 662.1,384.7 662.5,377.9 662.9,383.0 663.3,382.1 663.7,387.0 664.2,372.3 664.6,379.0 665.0,380.3 665.4,380.5 665.8,367.3 666.2,388.8 666.6,378.1 667.0,371.6 667.5,378.3 667.9,383.4 668.3,351.8 668.7,388.5 669.1,361.8 669.5,378.1 669.9,376.1 670.2,383.1 670.6,382.2 671.0,388.0 671.4,371.0 671.8,386.9 672.2,389.5 672.6,388.8 673.0,403.0 673.4,380.1 673.7,405.1 674.1,389.1 674.5,382.7 674.9,382.4 675.2,391.2 675.6,382.4 676.0,388.1 676.4,383.9 676.7,388.8 677.1,375.4 677.5,368.0 677.8,362.5 678.2,384.0 678.6,379.5 678.9,367.1 679.3,387.0 679.7,376.3 680.0,367.6 680.4,392.6 680.7,380.6 681.1,366.6 681.4,369.5 681.8,365.6 682.2,380.3 682.5,385.4 682.9,391.9 683.2,375.0 683.5,368.3 683.9,377.8 684.2,364.8 684.6,376.5 684.9,373.9 685.3,370.1 685.6,381.2 685.9,372.2 686.3,354.0 686.6,376.8 687.0,376.0 687.3,362.8 687.6,372.1 688.0,381.3 688.3,368.7 688.6,375.6 689.0,380.3 689.3,364.7 689.6,369.8 689.9,373.7 690.3,375.2 690.6,371.9 690.9,376.8 691.2,382.6 691.6,362.3 691.9,384.0 692.2,403.3 692.5,394.3 692.8,392.5 693.2,383.3 693.5,375.6 693.8,377.8 694.1,405.5 694.4,386.1 694.7,387.7 695.0,387.9 695.3,392.5 695.7,400.0 696.0,387.1 696.3,383.1 696.6,382.6 696.9,385.1 697.2,393.9 697.5,389.2 697.8,394.7 698.1,389.7 698.4,399.1 698.7,407.8 699.0,394.1 699.3,385.2 699.6,398.2 699.9,373.6 700.2,367.3 700.5,379.5 700.8,380.5 701.1,373.2 701.4,369.9 701.7,385.2 701.9,381.1 702.2,382.9 702.5,394.6 702.8,380.8 703.1,374.7 703.4,376.2 703.7,384.5 704.0,399.6 704.2,379.7 704.5,367.6 704.8,384.6 705.1,386.8 705.4,385.8 705.7,389.3 705.9,371.2 706.2,369.9 706.5,383.0 706.8,382.2 707.1,380.7 707.3,378.0 707.6,376.4 707.9,372.8 708.2,384.3 708.4,382.0 708.7,374.6 709.0,378.4 709.2,385.1 709.5,377.4 709.8,383.2 710.1,393.0 710.3,365.8 710.6,381.4 710.9,386.4 711.1,378.4 711.4,377.5 711.7,368.5 711.9,381.6 712.2,385.3 712.4,401.8 712.7,374.6 713.0,386.3 713.2,369.0 713.5,382.2 713.8,375.9 714.0,381.1 714.3,376.1 714.5,385.9 714.8,375.6 715.0,373.5 715.3,387.1 715.6,379.3 715.8,384.1 716.1,379.7 716.3,381.7 716.6,358.6 716.8,379.0 717.1,383.9 717.3,370.2 717.6,362.5 717.8,375.4 718.1,375.8 718.3,371.9 718.6,393.4 718.8,398.6 719.1,376.4 719.3,385.9 719.6,355.7 719.8,383.2 720.1,401.0 720.3,379.9 720.5,382.5 720.8,370.7 721.0,349.8 721.3,378.8 721.5,402.9 721.8,380.7 722.0,374.2 722.2,386.3 722.5,381.0 722.7,388.2 722.9,379.3 723.2,380.2 723.4,392.6 723.7,371.3 723.9,384.8 724.1,393.4 724.4,387.4 724.6,378.1 724.8,385.6 725.1,374.3 725.3,378.2 725.5,375.3 725.8,359.1 726.0,383.9 726.2,376.7 726.5,394.0 726.7,385.6 726.9,382.0 727.1,376.9 727.4,382.6 727.6,393.4 727.8,380.7 728.1,389.7 728.3,387.3 728.5,380.8 728.7,369.7 729.0,370.6 729.2,377.9 729.4,389.7 729.6,378.1 729.8,396.7 730.1,385.3 730.3,386.2 730.5,403.8 730.7,366.4 731.0,387.7 731.2,391.2 731.4,374.4 731.6,393.2 731.8,372.0 732.1,363.3 732.3,376.3 732.5,374.4 732.7,375.5 732.9,372.7 733.1,385.6 733.4,396.2 733.6,375.1 733.8,392.0 734.0,373.2 734.2,362.2 734.4,375.4 734.6,375.3 734.8,357.8 735.1,378.4 735.3,381.4 735.5,377.5 735.7,377.1 735.9,374.4 736.1,397.2 736.3,380.3 736.5,372.3 736.7,388.3 736.9,385.1 737.2,392.4 737.4,374.0 737.6,381.1 737.8,374.5 738.0,384.9 738.2,368.5 738.4,381.8 738.6,385.4 738.8,374.6 739.0,391.2 739.2,381.8 739.4,397.5 739.6,386.5 739.8,381.9 740.0,355.0 740.2,382.2 740.4,371.3 740.6,381.8 740.8,385.9 741.0,385.7 741.2,375.6 741.4,377.7 741.6,358.6 741.8,383.3 742.0,383.1 742.2,382.1 742.4,369.6 742.6,381.0 742.8,353.3 743.0,380.9 743.2,372.0 743.4,380.4 743.6,377.3 743.8,375.8 744.0,378.2 744.2,376.6 744.4,390.0 744.6,375.0 744.8,389.5 745.0,377.5 745.1,384.2 745.3,359.1 745.5,383.7 745.7,377.9 745.9,376.8 746.1,371.9 746.3,371.9 746.5,381.5 746.7,379.6 746.9,375.3 747.1,376.7 747.2,374.2 747.4,358.2 747.6,374.9 747.8,373.6 748.0,381.6 748.2,381.7 748.4,375.7 748.6,372.6 748.7,359.3 748.9,374.7 749.1,373.2 749.3,373.1 749.5,354.2 749.7,361.0 749.8,404.3 750.0,376.4 750.2,373.4 750.4,356.4 750.6,382.2 750.8,373.3 750.9,375.2 751.1,375.3 751.3,375.7 751.5,383.4 751.7,374.7 751.8,377.6 752.0,397.0 752.2,359.0 752.4,392.6 752.6,387.5 752.7,372.1 752.9,371.7 753.1,367.6 753.3,399.2 753.5,373.0 753.6,373.1 753.8,381.4 754.0,392.2 754.2,380.9 754.3,375.8 754.5,372.7 754.7,355.3 754.9,366.8 755.0,374.6 755.2,376.4 755.4,367.5 755.6,369.1 755.7,377.0 755.9,370.6 756.1,374.4 756.3,381.2 756.4,388.5 756.6,372.0 756.8,366.7 757.0,393.6 757.1,382.5 757.3,386.8 757.5,369.4 757.6,384.1 757.8,383.2 758.0,377.1 758.1,371.1 758.3,375.8 758.5,401.7 758.7,386.4 758.8,385.6 759.0,390.2 759.2,387.0 759.3,384.5 759.5,398.7 759.7,382.9 759.8,378.1 760.0,389.9 760.2,391.6 760.3,371.2 760.5,389.3 760.7,377.2 760.8,376.7 761.0,390.8 761.2,388.5 761.3,397.3 761.5,365.3 761.7,374.5 761.8,376.3 762.0,369.0 762.1,393.1 762.3,379.3 762.5,379.6 762.6,387.4 762.8,357.6 763.0,371.6 763.1,375.2 763.3,401.4 763.4,368.4 763.6,354.0 763.8,376.7 763.9,355.0 764.1,376.1 764.2,366.1 764.4,383.4 764.6,384.3 764.7,376.8 764.9,391.8 765.0,382.2 765.2,379.0 765.4,365.3 765.5,362.5 765.7,384.3 765.8,390.3 766.0,361.1 766.1,389.9 766.3,374.2 766.5,390.3 766.6,387.9 766.8,373.7 766.9,372.0 767.1,378.1 767.2,386.7 767.4,377.7 767.6,392.1 767.7,385.3 767.9,398.1 768.0,388.5 768.2,381.9 768.3,375.2 768.5,389.0 768.6,390.3 768.8,394.3 768.9,379.6 769.1,378.6 769.2,377.0 769.4,383.5 769.6,357.9 769.7,386.0 769.9,383.3 770.0,393.3 770.2,395.8 770.3,403.7 770.5,387.5 770.6,370.2 770.8,391.2 770.9,393.5 771.1,368.8 771.2,376.8 771.4,387.3 771.5,380.0 771.7,381.6 771.8,390.5 772.0,378.7 772.1,395.9 772.3,393.2 772.4,377.0 772.6,366.9 772.7,386.7 772.8,397.1 773.0,367.7 773.1,390.8 773.3,370.4 773.4,391.6 773.6,380.6 773.7,393.2 773.9,367.5 774.0,389.9 774.2,393.8 774.3,383.7 774.5,389.4 774.6,384.6 774.7,404.8 774.9,397.1 775.0,392.6 775.2,383.6 775.3,406.5 775.5,398.3 775.6,395.1 775.8,400.4 775.9,379.2 776.0,380.4 776.2,399.5 776.3,395.7 776.5,383.2 776.6,379.0 776.8,388.2 776.9,365.5 777.0,370.8 777.2,375.6 777.3,377.8 777.5,397.2 777.6,392.4 777.7,372.9 777.9,381.4 778.0,389.8 778.2,377.3 778.3,363.2 778.4,396.5 778.6,375.5 778.7,381.9 778.9,385.8 779.0,398.9 779.1,383.2 779.3,396.6 779.4,382.8 779.6,383.3 779.7,375.7 779.8,394.6 780.0,397.4 780.1,391.7 780.2,404.8 780.4,388.4 780.5,395.3 780.7,388.7 780.8,392.5 780.9,390.9 781.1,400.9 781.2,383.6 781.3,405.0 781.5,391.6 781.6,401.4 781.7,378.1 781.9,390.4 782.0,412.7 782.2,397.9 782.3,373.0 782.4,388.7 782.6,384.9 782.7,379.7 782.8,382.2 783.0,392.2 783.1,388.9 783.2,389.4 783.4,395.7 783.5,398.2 783.6,391.6 783.8,377.6 783.9,380.4 784.0,397.5 784.2,384.4 784.3,408.9 784.4,393.3 784.6,399.9 784.7,390.9 784.8,400.0 784.9,412.7 785.1,399.8 785.2,387.9 785.3,415.6 785.5,385.0 785.6,375.6 785.7,375.9 785.9,407.4 786.0,387.5 786.1,394.2 786.3,383.1 786.4,390.9 786.5,385.5 786.6,385.6 786.8,383.2 786.9,375.0 787.0,384.1 787.2,383.9 787.3,364.7 787.4,386.2 787.5,379.6 787.7,369.2 787.8,384.5 787.9,361.1 788.1,402.1 788.2,376.7 788.3,376.9 788.4,365.6 788.6,393.1 788.7,384.5 788.8,371.7 788.9,385.3 789.1,380.0 789.2,369.0 789.3,369.1 789.4,376.5 789.6,371.6 789.7,358.2 789.8,379.3 789.9,384.3 790.1,359.0 790.2,378.8 790.3,369.7 790.4,381.9 790.6,381.3 790.7,377.4 790.8,368.1 790.9,377.4 791.1,373.8 791.2,370.1 791.3,375.9 791.4,372.1 791.6,377.2 791.7,384.3 791.8,362.3 791.9,374.6 792.1,368.9 792.2,379.8 792.3,391.5 792.4,390.7 792.5,362.4 792.7,386.0 792.8,384.2 792.9,372.6 793.0,380.8 793.2,388.3 793.3,371.8 793.4,384.6 793.5,387.5 793.6,379.3 793.8,386.0 793.9,387.8 794.0,407.4 794.1,403.0 794.2,394.0 794.4,385.1 794.5,385.3 794.6,398.7 794.7,374.4 794.8,387.8 795.0,378.7 795.1,390.5 795.2,409.2 795.3,383.5 795.4,388.7 795.6,384.0 795.7,400.3 795.8,404.0 795.9,387.3 796.0,394.4 796.1,388.2 796.3,398.2 796.4,393.6 796.5,375.1 796.6,391.0 796.7,377.8 796.9,379.0 797.0,396.2 797.1,368.9 797.2,395.6 797.3,385.3 797.4,381.6 797.6,391.6 797.7,391.3 797.8,366.7 797.9,372.4 798.0,381.4 798.1,385.4 798.2,363.5 798.4,389.5 798.5,368.8 798.6,381.6 798.7,373.1 798.8,366.1 798.9,388.0 799.1,376.3 799.2,397.9 799.3,381.5 799.4,373.5 799.5,382.8 799.6,397.2 799.7,372.3 799.9,394.1 800.0,378.7 800.1,372.6 800.2,376.4 800.3,383.6 800.4,388.1 800.5,397.0 800.6,391.6 800.8,387.5 800.9,383.9 801.0,383.4 801.1,393.8 801.2,380.5 801.3,379.5 801.4,384.0 801.5,395.5 801.7,382.5 801.8,385.9 801.9,379.3 802.0,386.3 802.1,371.1 802.2,395.1 802.3,398.0 802.4,393.9 802.6,381.9 802.7,390.2 802.8,383.1 802.9,378.1 803.0,403.1 803.1,398.8 803.2,365.7 803.3,374.9 803.4,384.1 803.5,381.6 803.7,390.3 803.8,396.3 803.9,378.8 804.0,387.9 804.1,376.4 804.2,365.6 804.3,389.9 804.4,365.9 804.5,380.2 804.6,376.1 804.7,391.1 804.9,390.7 805.0,385.5 805.1,390.2 805.2,383.6 805.3,378.7 805.4,393.5 805.5,410.7 805.6,376.8 805.7,400.1 805.8,407.4 805.9,384.7 806.0,396.0 806.1,384.3 806.3,388.9 806.4,395.4 806.5,379.7 806.6,408.0 806.7,402.0 806.8,398.9 806.9,385.9 807.0,403.0 807.1,409.9 807.2,411.8 807.3,404.5 807.4,390.5 807.5,395.1 807.6,399.6 807.7,411.0 807.9,392.8 808.0,398.2 808.1,391.7 808.2,385.2 808.3,392.5 808.4,384.8 808.5,392.8 808.6,383.0 808.7,402.4 808.8,390.3 808.9,390.1 809.0,407.7 809.1,386.4 809.2,394.5 809.3,383.6 809.4,396.3 809.5,378.1 809.6,377.0 809.7,391.8 809.8,378.6 809.9,384.7 810.0,380.4 810.1,374.3 810.2,389.5 810.4,385.2 810.5,386.2 810.6,408.7 810.7,395.4 810.8,398.4 810.9,391.5 811.0,392.6 811.1,400.9 811.2,374.7 811.3,403.6 811.4,398.6 811.5,398.3 811.6,389.7 811.7,389.4 811.8,389.3 811.9,389.5 812.0,394.9 812.1,408.0 812.2,392.0 812.3,384.8 812.4,394.2 812.5,385.3 812.6,385.9 812.7,380.9 812.8,393.8 812.9,390.5 813.0,394.5 813.1,391.7 813.2,375.8 813.3,397.2 813.4,381.9 813.5,369.8 813.6,394.3 813.7,379.5 813.8,399.5 813.9,377.9 814.0,395.0 814.1,392.6 814.2,364.5 814.3,369.0 814.4,391.6 814.5,386.1 814.6,401.5 814.7,383.8 814.8,389.0 814.9,392.3 815.0,389.5 815.1,388.7 815.2,388.8 815.3,376.8 815.4,393.2 815.5,387.9 815.6,386.0 815.7,383.2 815.8,383.0 815.9,384.9 816.0,385.5 816.1,399.8 816.2,397.7 816.3,388.0 816.4,401.3 816.5,388.7 816.5,394.0 816.6,399.2 816.7,396.5 816.8,397.8 816.9,382.0 817.0,384.6 817.1,405.3 817.2,392.0 817.3,380.9 817.4,394.0 817.5,399.2 817.6,394.9 817.7,389.2 817.8,384.2 817.9,383.9 818.0,414.0 818.1,401.8 818.2,390.0 818.3,381.3 818.4,394.0 818.5,393.5 818.6,393.3 818.7,388.1 818.8,399.9 818.9,402.5 818.9,376.6 819.0,379.7 819.1,374.4 819.2,379.5 819.3,376.5 819.4,389.2 819.5,391.2 819.6,379.7 819.7,388.0 819.8,382.1 819.9,368.9 820.0,380.8 820.1,388.2 820.2,377.7 820.3,391.8 820.4,389.1 820.5,367.3 820.5,383.8 820.6,392.3 820.7,396.6 820.8,384.7 820.9,384.5 821.0,375.8 821.1,390.3 821.2,397.8 821.3,389.7 821.4,383.5 821.5,383.2 821.6,377.0 821.7,382.3 821.8,375.0 821.8,392.7 821.9,399.4 822.0,370.8 822.1,388.6 822.2,389.2 822.3,371.2 822.4,380.4 822.5,386.1 822.6,383.6 822.7,378.1 822.8,390.2 822.9,384.6 822.9,386.3 823.0,380.5 823.1,366.2 823.2,387.2 823.3,400.8 823.4,391.5 823.5,398.4 823.6,382.1 823.7,412.1 823.8,386.4 823.9,395.0 823.9,399.4 824.0,388.3 824.1,379.4 824.2,384.2 824.3,388.0 824.4,401.6 824.5,376.5 824.6,377.7 824.7,387.5 824.8,380.2 824.8,389.6 824.9,381.2 825.0,371.0 825.1,383.9 825.2,376.2 825.3,376.3 825.4,392.7 825.5,401.9 825.6,384.7 825.6,390.7 825.7,398.5 825.8,376.6 825.9,391.5 826.0,390.2 826.1,383.3 826.2,408.4 826.3,383.7 826.4,373.6 826.4,384.9 826.5,394.5 826.6,379.2 826.7,403.0 826.8,384.6 826.9,389.8 827.0,389.0 827.1,385.3 827.1,385.0 827.2,384.0 827.3,388.2 827.4,401.7 827.5,395.0 827.6,397.7 827.7,393.7 827.8,383.6 827.8,405.3 827.9,398.8 828.0,391.3 828.1,399.0 828.2,388.4 828.3,404.4 828.4,406.3 828.5,413.9 828.5,390.9 828.6,392.3 828.7,384.2 828.8,386.4 828.9,398.6 829.0,388.9 829.1,390.8 829.1,391.6 829.2,408.8 829.3,400.7 829.4,387.6 829.5,393.7 829.6,409.9 829.7,405.4 829.7,403.0 829.8,403.0 829.9,398.3 830.0,401.3 830.1,408.2 830.2,406.9 830.3,391.8 830.3,390.8 830.4,409.8 830.5,409.4 830.6,398.3 830.7,410.7 830.8,396.4 830.9,397.0 830.9,399.1 831.0,420.1 831.1,391.2 831.2,407.0 831.3,412.2 831.4,414.9 831.4,409.6 831.5,402.2 831.6,397.6 831.7,400.4 831.8,410.6 831.9,405.3 831.9,392.5 832.0,409.1 832.1,397.7 832.2,411.0" fill="none" stroke="#729fcf" stroke-width="1.67" stroke-linejoin="round" stroke-linecap="butt"/>
</g>
<path d="M88.50 491.00V484.40M88.50 10.90V18.80M160.50 491.00V488.00M160.50 10.90V14.50M202.50 491.00V488.00M202.50 10.90V14.50M232.50 491.00V488.00M232.50 10.90V14.50M256.50 491.00V488.00M256.50 10.90V14.50M275.50 491.00V488.00M275.50 10.90V14.50M291.50 491.00V488.00M291.50 10.90V14.50M305.50 491.00V488.00M305.50 10.90V14.50M317.50 491.00V488.00M317.50 10.90V14.50M328.50 491.00V484.40M328.50 10.90V18.80M400.50 491.00V488.00M400.50 10.90V14.50M443.50 491.00V488.00M443.50 10.90V14.50M473.50 491.00V488.00M473.50 10.90V14.50M496.50 491.00V488.00M496.50 10.90V14.50M515.50 491.00V488.00M515.50 10.90V14.50M531.50 491.00V488.00M531.50 10.90V14.50M545.50 491.00V488.00M545.50 10.90V14.50M557.50 491.00V488.00M557.50 10.90V14.50M568.50 491.00V484.40M568.50 10.90V18.80M641.50 491.00V488.00M641.50 10.90V14.50M683.50 491.00V488.00M683.50 10.90V14.50M713.50 491.00V488.00M713.50 10.90V14.50M736.50 491.00V488.00M736.50 10.90V14.50M755.50 491.00V488.00M755.50 10.90V14.50M772.50 491.00V488.00M772.50 10.90V14.50M786.50 491.00V488.00M786.50 10.90V14.50M798.50 491.00V488.00M798.50 10.90V14.50M809.50 491.00V484.40M809.50 10.90V18.80M88.10 491.00H95.50M832.05 491.00H824.65M88.10 385.50H95.50M832.05 385.50H824.65M88.10 278.50H95.50M832.05 278.50H824.65M88.10 171.50H95.50M832.05 171.50H824.65M88.10 65.50H95.50M832.05 65.50H824.65" stroke="#000" stroke-width="0.9" fill="none"/>
<rect x="88.10" y="10.90" width="743.95" height="480.10" fill="none" stroke="#000" stroke-width="1.67"/>
<text x="82.4" y="497.0" text-anchor="end" font-size="19.6">0.15</text>
<text x="81.4" y="391.0" text-anchor="end" font-size="19.6">0.16</text>
<text x="82.4" y="284.0" text-anchor="end" font-size="19.6">0.17</text>
<text x="81.4" y="177.0" text-anchor="end" font-size="19.6">0.18</text>
<text x="82.4" y="71.0" text-anchor="end" font-size="19.6">0.19</text>
<text x="70.60" y="519" font-size="20">10<tspan dy="-10.5" font-size="14">0</tspan></text>
<text x="311.75" y="519" font-size="20">10<tspan dy="-10.5" font-size="14">1</tspan></text>
<text x="551.90" y="519" font-size="20">10<tspan dy="-10.5" font-size="14">2</tspan></text>
<text x="791.70" y="519" font-size="20">10<tspan dy="-10.5" font-size="14">3</tspan></text>
<text x="459.7" y="546.6" text-anchor="middle" font-size="20">Epoch</text>
<text transform="translate(26.3 253.4) rotate(-90)" text-anchor="middle" font-size="20">Error</text>
<rect x="502.3" y="23.3" width="317.7" height="115.6" fill="#fff" stroke="#000" stroke-width="1.67"/>
<path d="M518 43.0H553" stroke="#ef2929" stroke-width="1.67"/>
<text x="579.0" y="52.7" font-size="24">Standard GRU</text>
<path d="M518 79.0H553" stroke="#8ae234" stroke-width="1.67"/>
<text x="579.0" y="88.7" font-size="24">Naive Dropout GRU</text>
<path d="M518 115.0H553" stroke="#729fcf" stroke-width="1.67"/>
<text x="579.0" y="124.7" font-size="24">Variational GRU</text>
</svg>
</body></html>
